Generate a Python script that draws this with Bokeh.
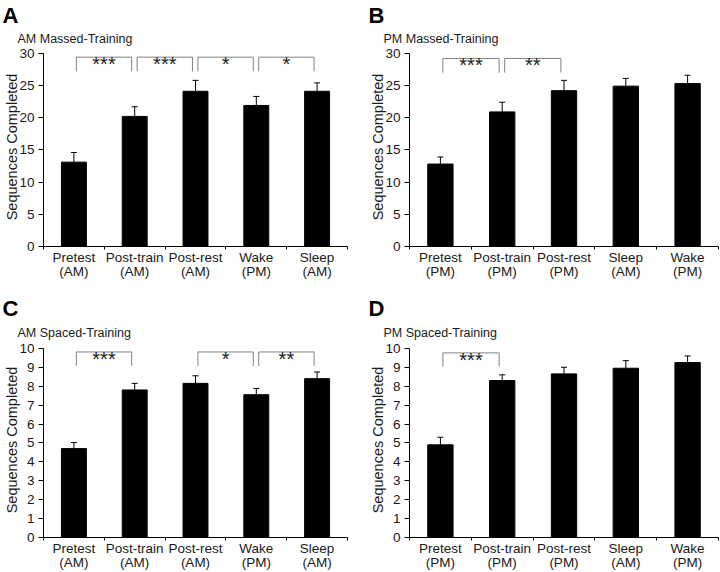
from bokeh.plotting import figure
from bokeh.models import Range1d, FixedTicker, Title, Whisker, ColumnDataSource, TeeHead
from bokeh.layouts import gridplot
from bokeh.embed import file_html
from bokeh.resources import INLINE
from bokeh.core.properties import value

FONT = "Liberation Sans"

# ---- data ----
a_labels = ["Pretest\n(AM)", "Post-train\n(AM)", "Post-rest\n(AM)", "Wake\n(PM)", "Sleep\n(AM)"]
a_means = [13.1, 20.2, 24.1, 21.9, 24.1]
a_upper = [14.6, 21.7, 25.8, 23.3, 25.4]
a_pairs = [(0, 1), (1, 2), (2, 3), (3, 4)]
a_stars = ["***", "***", "*", "*"]

b_labels = ["Pretest\n(PM)", "Post-train\n(PM)", "Post-rest\n(PM)", "Sleep\n(AM)", "Wake\n(PM)"]
b_means = [12.8, 20.9, 24.2, 24.9, 25.3]
b_upper = [13.9, 22.4, 25.8, 26.1, 26.6]
b_pairs = [(0, 1), (1, 2)]
b_stars = ["***", "**"]

c_labels = ["Pretest\n(AM)", "Post-train\n(AM)", "Post-rest\n(AM)", "Wake\n(PM)", "Sleep\n(AM)"]
c_means = [4.7, 7.8, 8.15, 7.55, 8.4]
c_upper = [5.02, 8.15, 8.55, 7.88, 8.75]
c_pairs = [(0, 1), (2, 3), (3, 4)]
c_stars = ["***", "*", "**"]

d_labels = ["Pretest\n(PM)", "Post-train\n(PM)", "Post-rest\n(PM)", "Sleep\n(AM)", "Wake\n(PM)"]
d_means = [4.9, 8.3, 8.65, 8.95, 9.25]
d_upper = [5.3, 8.6, 9.0, 9.35, 9.6]
d_pairs = [(0, 1)]
d_stars = ["***"]


def panel(letter, subtitle, labels, means, upper, pairs, stars,
          ymax, ystep, yend, br_top, br_foot, height, b_top, b_bottom, b_left, b_right,
          sub_standoff):
    n = len(labels)
    xs = list(range(n))
    p = figure(width=360, height=height, output_backend="svg", toolbar_location=None,
               x_range=Range1d(-0.5, n - 0.5), y_range=Range1d(0, yend),
               min_border_left=b_left, min_border_right=b_right,
               min_border_top=b_top, min_border_bottom=b_bottom)
    p.title.visible = False
    p.outline_line_color = None
    p.xgrid.visible = False
    p.ygrid.visible = False
    p.background_fill_color = "white"
    p.border_fill_color = "white"

    src = ColumnDataSource(dict(x=xs, top=means, up=upper))
    p.vbar(x="x", top="top", width=0.41, source=src, fill_color="black", line_color="black")
    p.add_layout(Whisker(base="x", lower="top", upper="up", source=src, dimension="height",
                         lower_head=None,
                         upper_head=TeeHead(size=6, line_color="black", line_width=1),
                         line_color="black", line_width=1))

    bx, by, mx, my = [], [], [], []
    for (i, j) in pairs:
        x0, x1 = i + 0.04, j - 0.05
        bx.append([x0, x0, x1, x1])
        by.append([br_foot, br_top, br_top, br_foot])
        mx.append((x0 + x1) / 2)
        my.append(br_top)
    p.multi_line(bx, by, line_color="#808080", line_width=1)
    p.text(x=mx, y=my, text=stars, text_align="center", text_baseline="alphabetic",
           y_offset=7, text_font=value(FONT), text_font_size="20px", text_color="#222222")

    # axes
    xa = p.xaxis[0]
    xa.ticker = FixedTicker(ticks=xs, minor_ticks=[k - 0.5 for k in range(n + 1)])
    xa.major_label_overrides = {k: labels[k] for k in xs}
    xa.major_tick_out = 0
    xa.major_tick_in = 0
    xa.minor_tick_out = 3
    xa.minor_tick_in = 0
    xa.major_label_text_font = FONT
    xa.major_label_text_font_size = "13.5px"
    xa.major_label_text_line_height = 0.95
    xa.major_label_text_color = "#1a1a1a"
    xa.major_label_standoff = 0
    xa.axis_line_color = "black"

    ya = p.yaxis[0]
    ya.ticker = FixedTicker(ticks=[k * ystep for k in range(int(round(ymax / ystep)) + 1)])
    ya.bounds = (0, ymax)
    ya.minor_tick_line_color = None
    ya.major_tick_out = 5
    ya.major_tick_in = 0
    ya.major_label_text_font = FONT
    ya.major_label_text_font_size = "13.5px"
    ya.major_label_text_color = "#1a1a1a"
    ya.major_label_standoff = 4
    ya.axis_label = "Sequences Completed"
    ya.axis_label_text_font = FONT
    ya.axis_label_text_font_size = "14.5px"
    ya.axis_label_text_font_style = "normal"
    ya.axis_label_text_color = "#1a1a1a"
    ya.axis_label_standoff = -4

    p.add_layout(Title(text=subtitle, align="left", offset=-26, standoff=sub_standoff,
                       text_font=FONT, text_font_size="12.5px", text_font_style="normal",
                       text_color="#1a1a1a"), "above")
    p.add_layout(Title(text=letter, align="left", offset=-41, standoff=0,
                       text_font=FONT, text_font_size="22px", text_font_style="bold",
                       text_color="black"), "above")
    return p


pa = panel("A", "AM Massed-Training", a_labels, a_means, a_upper, a_pairs, a_stars,
           30, 5, 30.9, 29.4, 27.2, 284, 46, 38, 43, 13, 4)
pb = panel("B", "PM Massed-Training", b_labels, b_means, b_upper, b_pairs, b_stars,
           30, 5, 30.9, 29.2, 27.0, 284, 46, 38, 49, 2, 4)
pc = panel("C", "AM Spaced-Training", c_labels, c_means, c_upper, c_pairs, c_stars,
           10, 1, 10.31, 9.81, 9.07, 288, 58, 30, 43, 13, 6)
pd_ = panel("D", "PM Spaced-Training", d_labels, d_means, d_upper, d_pairs, d_stars,
            10, 1, 10.31, 9.76, 9.04, 288, 58, 30, 49, 2, 6)

grid = gridplot([[pa, pb], [pc, pd_]], toolbar_location=None)
open("out.html", "w").write(file_html(grid, INLINE))
